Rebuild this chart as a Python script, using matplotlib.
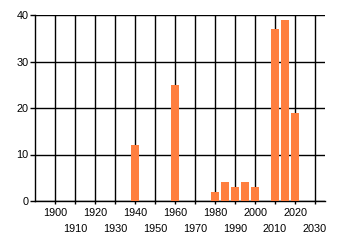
import matplotlib
matplotlib.use("Agg")
import matplotlib.pyplot as plt

years = [1940, 1960, 1980, 1985, 1990, 1995, 2000, 2010, 2015, 2020]
counts = [12, 25, 2, 4, 3, 4, 3, 37, 39, 19]
major_ticks = [1900, 1920, 1940, 1960, 1980, 2000, 2020]
minor_ticks = [1910, 1930, 1950, 1970, 1990, 2010, 2030]
y_ticks = [0, 10, 20, 30, 40]

plt.rcParams['font.family'] = ['Liberation Sans', 'DejaVu Sans']
DPI = 100
fig = plt.figure(figsize=(3.4, 2.45), dpi=DPI)
ax = fig.add_axes([35/340, 1 - 201/245, 290/340, 186/245])

ax.bar(years, counts, width=3.9, color='#FF7F3F', zorder=3)

ax.set_xlim(1890, 2035)
ax.set_ylim(0, 40)

for x in major_ticks + minor_ticks:
    ax.axvline(x, color='black', lw=1.0, zorder=1)
for y in y_ticks:
    ax.axhline(y, color='black', lw=1.0, zorder=1)

ax.spines['top'].set_visible(False)
ax.spines['right'].set_visible(False)
for s in ['left', 'bottom']:
    ax.spines[s].set_linewidth(1.0)
    ax.spines[s].set_color('black')

ax.set_yticks(y_ticks)
ax.set_yticklabels([str(v) for v in y_ticks])
ax.set_xticks(major_ticks)
ax.set_xticklabels([str(v) for v in major_ticks])
ax.set_xticks(minor_ticks, minor=True)
ax.set_xticklabels([str(v) for v in minor_ticks], minor=True)

ax.tick_params(axis='y', length=3.6, width=1.0, pad=1, labelsize=7.8, colors='black')
ax.tick_params(axis='x', which='major', length=2.2, width=1.0, pad=3.0, labelsize=7.8)
ax.tick_params(axis='x', which='minor', length=2.2, width=1.0, pad=14.5, labelsize=7.8)

fig.savefig('out.png', dpi=DPI)
